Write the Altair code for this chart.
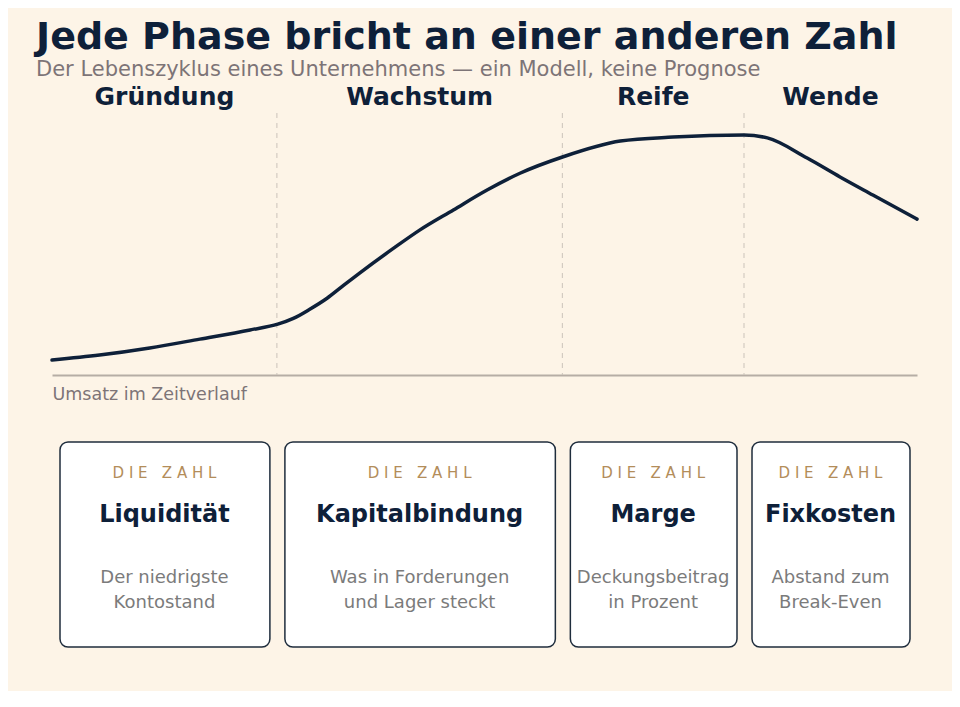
import altair as alt
import pandas as pd

# Modellkurve: Zeit (0-100) gegen Umsatz (0-100)
zeit = [0, 5.5, 11.3, 17.1, 22.9, 26.1, 27.9, 29.8, 31.8, 33.7, 35.6, 39.5,
        42.5, 46.4, 50.3, 54.1, 59.1, 65.7, 71.8, 80, 82.7, 87.3, 91.1, 94.9, 100]
umsatz = [5.7, 7.6, 10.3, 13.7, 17.2, 19.4, 21.6, 25.1, 29.3, 34.2, 39.0, 48.4,
          55.3, 63.0, 70.6, 77.0, 83.3, 89.3, 90.8, 91.6, 90.5, 82.8, 75.6, 68.7, 59.5]

phasen = ["Gründung", "Wachstum", "Reife", "Wende"]
phase_start = [0, 26, 59, 80]
phase_ende = [26, 59, 80, 100]
grenzen = [26, 59, 80]
kennzahlen = ["Liquidität", "Kapitalbindung", "Marge", "Fixkosten"]
beschreibung = [
    "Der niedrigste\nKontostand",
    "Was in Forderungen\nund Lager steckt",
    "Deckungsbeitrag\nin Prozent",
    "Abstand zum\nBreak-Even",
]

BG = "#fdf4e7"
NAVY = "#0e2039"
GREY = "#7d7477"
TEXT_GREY = "#7b7b7b"
GOLD = "#b38d5a"
W, H = 865, 262

kurve = pd.DataFrame({"zeit": zeit, "umsatz": umsatz})
phasen_df = pd.DataFrame({
    "phase": phasen,
    "start": phase_start,
    "ende": phase_ende,
    "zahl": kennzahlen,
    "text": beschreibung,
})
phasen_df["mitte"] = (phasen_df["start"] + phasen_df["ende"]) / 2
# gesperrte Schrift: SVG fasst normale Leerzeichen zusammen, daher NBSP im Wortabstand
phasen_df["label"] = "D I E \u00a0\u00a0Z A H L"
grenzen_df = pd.DataFrame({"grenze": grenzen})

x_scale = alt.Scale(domain=[0, 100], nice=False, zero=False)
y_scale = alt.Scale(domain=[0, 100], nice=False, zero=False)
x_axis = alt.Axis(
    labels=False, ticks=False, grid=False,
    domainColor="#b6ada5", domainWidth=2,
    titleAnchor="start", titleAlign="left", titleFontWeight="normal",
    titleFontSize=17.5, titleColor=GREY, titlePadding=10,
)


def x_enc(field):
    return alt.X(field, scale=x_scale, axis=x_axis, title="Umsatz im Zeitverlauf")


linie = alt.Chart(kurve).mark_line(
    color=NAVY, strokeWidth=3.5, interpolate="monotone", strokeCap="round"
).encode(
    x=x_enc("zeit:Q"),
    y=alt.Y("umsatz:Q", scale=y_scale, axis=None),
)

trenner = alt.Chart(grenzen_df).mark_rule(
    color="#cbc3ba", strokeWidth=1, strokeDash=[5, 5]
).encode(x=x_enc("grenze:Q"), y=alt.value(0), y2=alt.value(H))

phase_text = alt.Chart(phasen_df).mark_text(
    fontSize=25, fontWeight="bold", color=NAVY
).encode(x=x_enc("mitte:Q"), y=alt.value(-16), text="phase:N")

karten = alt.Chart(phasen_df).mark_rect(
    fill="#ffffff", stroke="#1f2d3d", strokeWidth=1.5, cornerRadius=8,
    xOffset=8, x2Offset=-7
).encode(x=x_enc("start:Q"), x2="ende:Q", y=alt.value(329), y2=alt.value(534))

karten_label = alt.Chart(phasen_df).mark_text(
    fontSize=15, color=GOLD
).encode(x=x_enc("mitte:Q"), y=alt.value(360), text="label:N")

karten_zahl = alt.Chart(phasen_df).mark_text(
    fontSize=24, fontWeight="bold", color=NAVY
).encode(x=x_enc("mitte:Q"), y=alt.value(402), text="zahl:N")

karten_text = alt.Chart(phasen_df).mark_text(
    fontSize=18, color=TEXT_GREY, lineBreak="\n", lineHeight=25
).encode(x=x_enc("mitte:Q"), y=alt.value(465), text="text:N")

chart = alt.layer(
    trenner, linie, phase_text, karten, karten_label, karten_zahl, karten_text
).properties(
    width=W,
    height=H,
    autosize=alt.AutoSizeParams(type="none"),
    padding={"left": 44, "top": 105, "right": 35, "bottom": 316},
    title=alt.Title(
        "Jede Phase bricht an einer anderen Zahl",
        subtitle="Der Lebenszyklus eines Unternehmens — ein Modell, keine Prognose",
        anchor="start", dx=-9, fontSize=38, fontWeight="bold", color=NAVY,
        subtitleFontSize=21, subtitleColor=GREY, subtitlePadding=2, offset=5,
    ),
).configure(
    background=BG, font="DejaVu Sans"
).configure_view(stroke=None)

chart.save("out.html", embed_options={"renderer": "svg", "actions": False})
